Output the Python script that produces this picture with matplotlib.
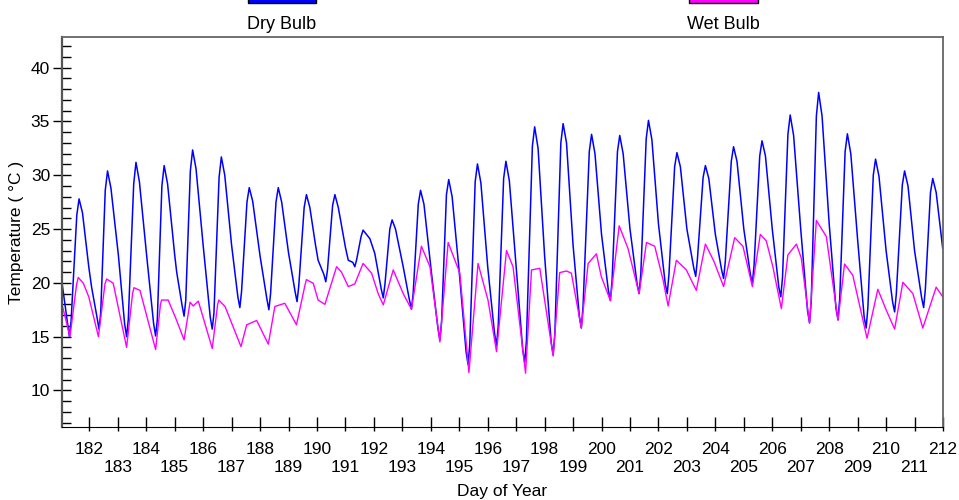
import matplotlib
matplotlib.use("Agg")
import matplotlib.pyplot as plt
from matplotlib.patches import Rectangle
from matplotlib.ticker import MultipleLocator, FixedLocator

plt.rcParams['font.family'] = ['Liberation Sans', 'DejaVu Sans']

# dry bulb readings (day of year, deg C), roughly one row per daily cycle
dry_day = [181.04,
           181.24, 181.30, 181.36, 181.56, 181.64, 181.76, 181.98, 182.08,
           182.27, 182.34, 182.40, 182.56, 182.64, 182.76, 183.02,
           183.24, 183.31, 183.37, 183.56, 183.64, 183.76, 184.02,
           184.26, 184.33, 184.39, 184.55, 184.63, 184.75, 185.00, 185.07,
           185.26, 185.33, 185.39, 185.55, 185.63, 185.75, 186.00,
           186.25, 186.32, 186.38, 186.56, 186.64, 186.76, 187.00,
           187.22, 187.29, 187.35, 187.54, 187.62, 187.74, 188.00,
           188.24, 188.31, 188.37, 188.56, 188.64, 188.76, 189.00,
           189.23, 189.30, 189.36, 189.55, 189.63, 189.75, 189.95, 190.04,
           190.24, 190.31, 190.37, 190.55, 190.63, 190.75, 191.00, 191.10,
           191.26, 191.33, 191.39, 191.55, 191.62, 191.86, 192.03,
           192.26, 192.33, 192.39, 192.56, 192.64, 192.76, 193.03,
           193.25, 193.32, 193.38, 193.56, 193.64, 193.76, 194.02,
           194.25, 194.32, 194.38, 194.55, 194.63, 194.75, 195.00,
           195.24, 195.31, 195.37, 195.56, 195.64, 195.76, 196.00,
           196.24, 196.31, 196.37, 196.56, 196.64, 196.76, 197.00,
           197.23, 197.30, 197.36, 197.57, 197.65, 197.77, 198.00,
           198.23, 198.30, 198.36, 198.57, 198.65, 198.77, 199.00,
           199.22, 199.29, 199.35, 199.57, 199.65, 199.77, 200.00,
           200.24, 200.31, 200.37, 200.56, 200.64, 200.76, 201.00,
           201.25, 201.32, 201.38, 201.57, 201.65, 201.77, 202.00,
           202.24, 202.31, 202.37, 202.57, 202.65, 202.77, 203.00,
           203.24, 203.31, 203.37, 203.57, 203.65, 203.77, 204.00,
           204.22, 204.29, 204.35, 204.56, 204.64, 204.76, 205.00,
           205.23, 205.30, 205.36, 205.56, 205.64, 205.76, 206.00,
           206.23, 206.30, 206.36, 206.55, 206.63, 206.75, 207.00,
           207.24, 207.31, 207.37, 207.55, 207.63, 207.75, 208.00,
           208.24, 208.31, 208.37, 208.56, 208.64, 208.76, 209.00,
           209.23, 209.30, 209.36, 209.55, 209.63, 209.75, 210.00,
           210.23, 210.30, 210.36, 210.57, 210.65, 210.77, 211.00,
           211.25, 211.32, 211.38, 211.56, 211.64, 211.76, 211.99]
dry_temp = [20.0,
            16.2, 15.0, 16.5, 26.3, 27.8, 26.5, 21.5, 19.6,
            16.8, 15.7, 17.2, 28.6, 30.4, 28.8, 22.6,
            16.2, 15.0, 16.6, 29.2, 31.2, 29.4, 22.4,
            16.2, 15.06, 16.6, 29.0, 30.9, 29.2, 22.6, 21.0,
            17.9, 16.9, 18.4, 30.4, 32.35, 30.6, 23.5,
            16.8, 15.7, 17.2, 29.8, 31.7, 30.0, 23.5,
            18.7, 17.7, 19.2, 27.5, 28.85, 27.6, 22.5,
            18.5, 17.5, 19.0, 27.5, 28.85, 27.5, 22.8,
            19.2, 18.25, 19.7, 27.0, 28.2, 27.0, 23.5, 22.1,
            20.8, 20.1, 21.2, 27.2, 28.2, 27.0, 23.3, 22.1,
            21.9, 21.5, 22.1, 24.3, 24.9, 24.1, 22.75,
            19.4, 18.6, 19.9, 25.0, 25.85, 25.0, 21.5,
            18.4, 17.55, 19.0, 27.3, 28.6, 27.3, 21.0,
            15.8, 14.7, 16.4, 28.2, 29.6, 28.0, 21.0,
            13.6, 12.4, 14.3, 29.4, 31.05, 29.3, 21.5,
            15.3, 14.2, 16.0, 29.7, 31.3, 29.5, 21.5,
            13.8, 12.6, 14.6, 32.7, 34.5, 32.5, 22.5,
            14.5, 13.3, 15.3, 33.0, 34.8, 33.0, 23.5,
            16.9, 15.8, 17.8, 32.2, 33.8, 32.0, 24.5,
            19.3, 18.35, 20.2, 32.2, 33.7, 32.0, 25.0,
            19.9, 19.0, 20.8, 33.4, 35.1, 33.3, 25.5,
            19.9, 19.0, 20.8, 30.8, 32.1, 30.8, 25.0,
            21.4, 20.6, 22.2, 29.8, 30.9, 29.7, 24.5,
            21.2, 20.4, 22.0, 31.3, 32.65, 31.3, 25.0,
            20.8, 19.96, 21.6, 31.8, 33.2, 31.8, 25.0,
            19.6, 18.7, 20.5, 33.8, 35.6, 33.7, 25.0,
            17.4, 16.3, 18.3, 35.5, 37.7, 35.5, 25.5,
            17.6, 16.6, 18.5, 32.2, 33.85, 32.0, 24.0,
            16.8, 15.8, 17.7, 30.0, 31.5, 29.9, 23.0,
            18.2, 17.3, 19.0, 29.1, 30.4, 29.0, 23.0,
            18.6, 17.7, 19.4, 28.4, 29.7, 28.4, 23.2]

# wet bulb readings
wet_day = [181.04, 181.32, 181.55, 181.61, 181.79, 181.98,
           182.32, 182.55, 182.61, 182.84,
           183.31, 183.52, 183.57, 183.78,
           184.33, 184.50, 184.54, 184.77, 185.04,
           185.33, 185.54, 185.65, 185.83,
           186.32, 186.51, 186.55, 186.77,
           187.33, 187.53, 187.88,
           188.29, 188.52, 188.87,
           189.28, 189.58, 189.63, 189.87, 190.04,
           190.28, 190.69, 190.86, 191.10,
           191.33, 191.62, 191.92, 192.15,
           192.33, 192.68, 193.03,
           193.32, 193.67, 193.97,
           194.32, 194.61, 195.02,
           195.34, 195.66, 196.01,
           196.31, 196.66, 196.89,
           197.33, 197.54, 197.83,
           198.30, 198.53, 198.77, 198.94,
           199.29, 199.53, 199.82, 199.99,
           200.31, 200.62, 200.93,
           201.32, 201.58, 201.87, 202.16,
           202.34, 202.63, 202.98,
           203.33, 203.65, 203.95,
           204.29, 204.68, 204.97,
           205.30, 205.58, 205.79, 206.02,
           206.32, 206.55, 206.85, 207.02,
           207.31, 207.55, 207.90,
           208.31, 208.54, 208.83,
           209.33, 209.71, 210.00,
           210.30, 210.59, 210.94,
           211.29, 211.76, 211.99]
wet_temp = [18.0, 15.0, 19.8, 20.5, 19.96, 18.7,
            15.0, 19.9, 20.36, 19.96,
            14.0, 19.0, 19.55, 19.3,
            13.8, 18.0, 18.4, 18.4, 16.7,
            14.7, 18.2, 17.85, 18.3,
            13.9, 18.0, 18.4, 17.8,
            14.07, 16.1, 16.5,
            14.3, 17.8, 18.1,
            16.1, 19.8, 20.3, 19.96, 18.4,
            18.0, 21.5, 21.0, 19.65,
            19.9, 21.8, 20.9, 19.0,
            17.95, 21.2, 19.0,
            17.55, 23.4, 21.5,
            14.5, 23.75, 20.9,
            11.65, 21.8, 18.4,
            13.6, 23.0, 21.5,
            11.6, 21.2, 21.35,
            13.2, 20.95, 21.1, 20.9,
            15.8, 21.8, 22.7, 20.6,
            18.35, 25.3, 23.2,
            19.0, 23.75, 23.4, 20.3,
            17.85, 22.1, 21.2,
            19.3, 23.6, 22.0,
            19.65, 24.2, 23.4,
            19.65, 24.5, 23.9, 21.5,
            17.6, 22.6, 23.6, 22.3,
            16.25, 25.8, 24.3,
            16.5, 21.75, 20.7,
            14.85, 19.4, 17.5,
            15.7, 20.05, 19.0,
            15.8, 19.6, 18.7]

day_ticks = list(range(182, 213))
day_labels = [str(d) if d % 2 == 0 else '\n' + str(d) for d in day_ticks]

W, H = 959, 500
fig = plt.figure(figsize=(W / 100, H / 100), dpi=100)
ax = fig.add_axes([62 / W, 1 - 427 / H, (943 - 62) / W, (427 - 37) / H])

ax.plot(dry_day, dry_temp, color='#0000ff', lw=1.1)
ax.plot(wet_day, wet_temp, color='#ff00ff', lw=1.0)

ax.set_xlim(181.04, 212.0)
ax.set_ylim(6.6, 42.85)

ax.yaxis.set_major_locator(MultipleLocator(5))
ax.yaxis.set_minor_locator(MultipleLocator(1))
ax.tick_params(axis='y', which='major', direction='inout', length=13, width=1,
               labelsize=12.5, pad=2)
ax.tick_params(axis='y', which='minor', direction='in', length=6.5, width=1)

ax.xaxis.set_major_locator(FixedLocator(day_ticks))
ax.xaxis.set_minor_locator(FixedLocator(day_ticks))
ax.xaxis.remove_overlapping_locs = False
ax.set_xticklabels(day_labels)
ax.tick_params(axis='x', which='major', direction='in', length=7.2, width=1,
               labelsize=12.5, pad=11, top=False)
ax.tick_params(axis='x', which='minor', direction='out', length=3, width=1, top=False)
for lab in ax.get_xticklabels():
    lab.set_linespacing(1.25)
    lab.set_verticalalignment('top')

ax.spines['left'].set_color('#555555')
ax.spines['left'].set_linewidth(1.6)
ax.spines['bottom'].set_color('black')
ax.spines['top'].set_color('#666666')
ax.spines['right'].set_color('#666666')
ax.spines['top'].set_linewidth(1.3)
ax.spines['right'].set_linewidth(1.3)

ax.set_ylabel('Temperature ( °C )', fontsize=12.5, labelpad=5)
ax.set_xlabel('Day of Year', fontsize=12.5, labelpad=6)

# legend swatches at top edge
fig.add_artist(Rectangle((248 / W, 1 - 2.7 / H), 68 / W, 20 / H, transform=fig.transFigure,
                         facecolor='#0000ff', edgecolor='black', lw=1))
fig.add_artist(Rectangle((689 / W, 1 - 2.7 / H), 69 / W, 20 / H, transform=fig.transFigure,
                         facecolor='#ff00ff', edgecolor='black', lw=1))
fig.text(282 / W, 1 - 29 / H, 'Dry Bulb', ha='center', va='baseline', fontsize=13)
fig.text(723 / W, 1 - 29 / H, 'Wet Bulb', ha='center', va='baseline', fontsize=13)

fig.savefig('out.png', dpi=100)
